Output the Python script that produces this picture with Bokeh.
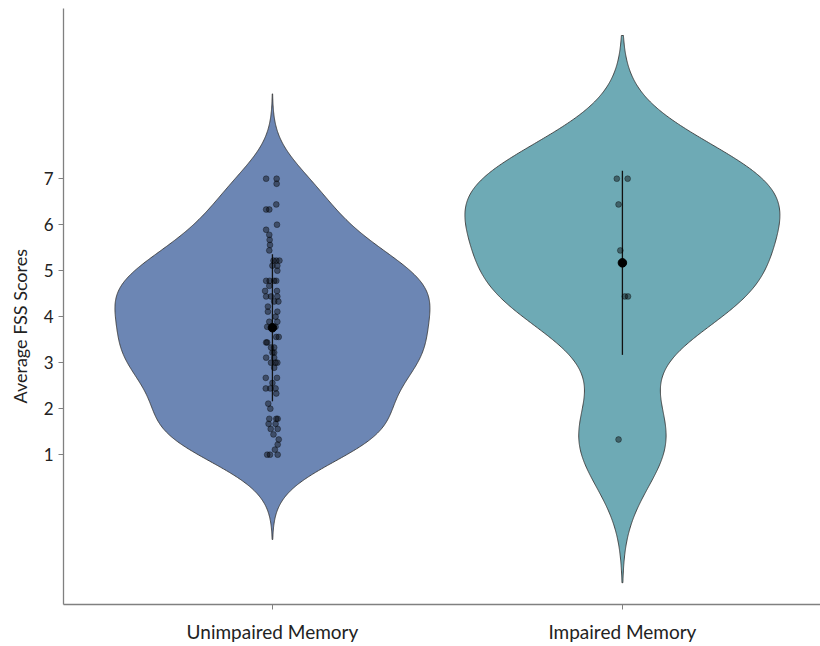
import numpy as np
from bokeh.plotting import figure
from bokeh.models import FixedTicker, Range1d, ColumnDataSource, Title
from bokeh.embed import file_html
from bokeh.resources import INLINE

# ---- data ----
groups = ["Unimpaired Memory", "Impaired Memory"]
group_pos = [1, 2]
y_ticks = [1, 2, 3, 4, 5, 6, 7]

unimp_scores = [7.0, 7.0, 6.89, 6.44, 6.33, 6.33, 6.0, 5.89, 5.78, 5.67, 5.56, 5.44,
                5.22, 5.22, 5.22, 5.11, 5.11, 5.0, 4.78, 4.78, 4.78, 4.78, 4.67,
                4.56, 4.56, 4.44, 4.44, 4.44, 4.33, 4.33, 4.22, 4.11, 4.11, 4.0,
                3.89, 3.89, 3.78, 3.78, 3.56, 3.56, 3.44, 3.44, 3.33, 3.33, 3.22,
                3.22, 3.11, 3.11, 3.0, 3.0, 3.0, 2.89, 2.67, 2.67, 2.56, 2.44, 2.44,
                2.44, 2.33, 2.11, 2.0, 1.78, 1.78, 1.78, 1.67, 1.67, 1.56, 1.56,
                1.44, 1.33, 1.22, 1.11, 1.0, 1.0, 1.0]
unimp_jitter = [-0.018, 0.012, 0.012, 0.011, -0.018, -0.009, 0.013, -0.018, -0.009,
                -0.008, -0.007, -0.009, 0.003, 0.011, 0.020, 0.0, 0.014, 0.014,
                -0.018, -0.008, 0.005, 0.011, -0.009, -0.021, 0.013, -0.018, -0.004,
                0.014, 0.005, 0.017, -0.013, -0.013, 0.014, 0.009, -0.009, 0.014,
                -0.015, 0.009, 0.011, 0.018, -0.018, -0.015, -0.004, 0.005, 0.0,
                0.005, -0.018, 0.005, -0.004, 0.009, 0.014, 0.005, -0.019, 0.013,
                0.0, -0.019, -0.006, 0.009, 0.011, -0.012, -0.006, -0.009, 0.011,
                0.015, -0.011, 0.009, -0.005, 0.015, 0.003, 0.018, 0.015, 0.007,
                -0.015, -0.007, 0.015]
imp_scores = [7.0, 7.0, 6.44, 5.44, 4.44, 4.44, 1.33]
imp_jitter = [-0.016, 0.015, -0.011, -0.006, 0.007, 0.016, -0.011]

means = [3.76, 5.17]
sds = [1.60, 2.00]

fills = ["#6C86B4", "#6EAAB5"]


def nrd0(x):
    x = np.asarray(x, dtype=float)
    hi = np.std(x, ddof=1)
    q75, q25 = np.percentile(x, [75, 25])
    lo = min(hi, (q75 - q25) / 1.34)
    return 0.9 * lo * len(x) ** -0.2


def violin(x, center, half_width=0.45):
    x = np.asarray(x, dtype=float)
    bw = nrd0(x)
    grid = np.linspace(x.min() - 3 * bw, x.max() + 3 * bw, 512)
    dens = np.exp(-0.5 * ((grid[:, None] - x[None, :]) / bw) ** 2).sum(axis=1)
    hw = half_width * dens / dens.max()
    xs = np.concatenate([center - hw, (center + hw)[::-1]])
    ys = np.concatenate([grid, grid[::-1]])
    return xs, ys


p = figure(width=820, height=646, output_backend="svg", toolbar_location=None,
           x_range=Range1d(0.403, 2.566), y_range=Range1d(-2.257, 10.70),
           min_border_left=63, min_border_right=0, min_border_top=8,
           min_border_bottom=42)
p.outline_line_color = None
p.xgrid.grid_line_color = None
p.ygrid.grid_line_color = None
p.background_fill_color = "white"

all_scores = [unimp_scores, imp_scores]
all_jitter = [unimp_jitter, imp_jitter]

for i, (sc, pos) in enumerate(zip(all_scores, group_pos)):
    xs, ys = violin(sc, pos)
    p.patch(xs, ys, fill_color=fills[i], line_color="#3a3a3a", line_width=0.9)

# mean +/- SD lines
p.segment(x0=group_pos, y0=[m - s for m, s in zip(means, sds)],
          x1=group_pos, y1=[m + s for m, s in zip(means, sds)],
          line_color="#111111", line_width=1.3)

for sc, jit, pos in zip(all_scores, all_jitter, group_pos):
    src = ColumnDataSource(dict(x=[pos + j for j in jit], y=sc))
    p.scatter("x", "y", source=src, size=5.8, fill_color="black", fill_alpha=0.42,
              line_color="black", line_alpha=0.45, line_width=0.8)

p.scatter(group_pos, means, size=8.5, fill_color="black", line_color="black")

font = "Lato"
p.xaxis.ticker = FixedTicker(ticks=group_pos)
p.xaxis.major_label_overrides = {pos: g for pos, g in zip(group_pos, groups)}
p.yaxis.ticker = FixedTicker(ticks=y_ticks)

for ax in (p.xaxis[0], p.yaxis[0]):
    ax.axis_line_color = "#808080"
    ax.axis_line_width = 1.3
    ax.major_tick_line_color = "#808080"
    ax.major_tick_out = 5
    ax.major_tick_in = 0
    ax.minor_tick_line_color = None
    ax.major_label_text_font = font
    ax.major_label_text_color = "#222222"

p.xaxis.major_label_text_font_size = "19px"
p.xaxis.major_label_standoff = 10
p.yaxis.major_label_text_font_size = "17px"
p.yaxis.major_label_standoff = 5

ylab = Title(text="Average FSS Scores", align="left", offset=201,
             vertical_align="top", text_font=font, text_font_size="18px",
             text_font_style="normal", text_color="#222222", standoff=16)
p.add_layout(ylab, "left")

open("out.html", "w").write(file_html(p, INLINE))
